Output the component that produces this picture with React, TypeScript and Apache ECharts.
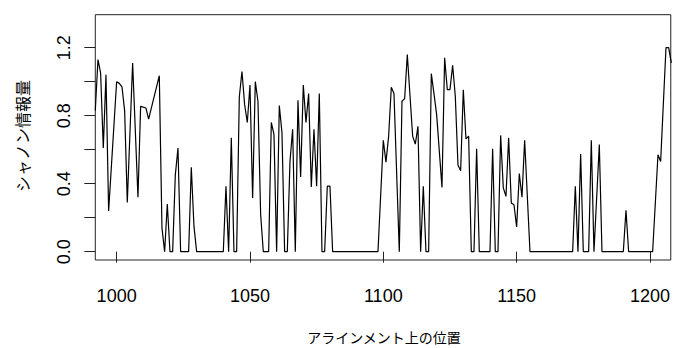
import React, { useEffect, useRef } from "react";
import * as echarts from "echarts";

const positions: number[] = [
  992, 993, 994, 995, 996, 997, 1000, 1001, 1002, 1003, 1004, 1006, 1008, 1009, 1011, 1012,
  1016, 1017, 1018, 1019, 1020, 1021, 1022, 1023, 1024, 1027, 1028, 1029, 1030, 1040,
  1041, 1042, 1043, 1044, 1045, 1046, 1047, 1048, 1049, 1050, 1051, 1052, 1053, 1054,
  1055, 1057, 1058, 1059, 1060, 1061, 1062, 1063, 1064, 1065, 1066, 1067, 1068, 1069,
  1070, 1071, 1072, 1073, 1074, 1075, 1076, 1077, 1078, 1079, 1080, 1081, 1098, 1100,
  1101, 1102, 1103, 1104, 1106, 1107, 1108, 1109, 1111, 1112, 1113, 1114, 1115, 1116,
  1117, 1118, 1119, 1120, 1122, 1123, 1124, 1125, 1126, 1127, 1128, 1129, 1130, 1131,
  1132, 1133, 1134, 1135, 1136, 1140, 1141, 1142, 1143, 1144, 1145, 1146, 1147, 1148,
  1149, 1150, 1151, 1152, 1153, 1155, 1171, 1172, 1173, 1174, 1175, 1177, 1178, 1179,
  1181, 1182, 1190, 1191, 1192, 1201, 1203, 1204, 1206, 1207, 1208,
];

const entropy: number[] = [
  0.83, 1.13, 1.05, 0.61, 1.04, 0.24, 1.0, 0.99, 0.97, 0.83, 0.29, 1.11, 0.32, 0.855, 0.845, 0.78,
  1.035, 0.14, 0, 0.28, 0, 0, 0.45, 0.61, 0, 0, 0.496, 0.15, 0, 0,
  0.385, 0, 0.67, 0, 0, 0.91, 1.06, 0.865, 0.76, 0.98, 0.316, 1.0, 0.885, 0.22,
  0, 0, 0.76, 0.69, 0, 0.86, 0.7, 0, 0, 0.53, 0.72, 0, 0.89, 0.44,
  0.98, 0.76, 0.93, 0.38, 0.72, 0.385, 0.93, 0, 0, 0.385, 0.385, 0, 0, 0.655,
  0.527, 0.68, 0.967, 0.93, 0, 0.885, 0.9, 1.16, 0.68, 0.633, 0.737, 0, 0.385, 0,
  0, 1.047, 0.93, 0.806, 0.378, 1.14, 0.953, 0.953, 1.096, 0.914, 0.51, 0.476, 0.953, 0.663,
  0.68, 0, 0, 0.606, 0, 0, 0.606, 0, 0, 0.684, 0.375, 0.325, 0.67, 0.286,
  0.276, 0.145, 0.46, 0.32, 0.655, 0, 0, 0.385, 0, 0.575, 0, 0, 0.655, 0,
  0.63, 0, 0, 0.243, 0, 0, 0.57, 0.53, 1.2, 1.2, 1.11,
];

const xTicks: number[] = [1000, 1050, 1100, 1150, 1200];
const yTicks: number[] = [0, 0.2, 0.4, 0.6, 0.8, 1.0, 1.2];
const yLabels: number[] = [0, 0.4, 0.8, 1.2];

const xTitle = "アラインメント上の位置";
const yTitle = "シャノン情報量";

const LATIN = "'Liberation Sans', Arial, sans-serif";
const CJK = "'Noto Sans CJK JP', sans-serif";

export default function App() {
  const ref = useRef<HTMLDivElement>(null);
  useEffect(() => {
    if (!ref.current) return;
    const chart = echarts.init(ref.current, undefined, { renderer: "svg" });
    const data = positions.map((p, i) => [p, entropy[i]]);
    chart.setOption({
      animation: false,
      backgroundColor: "#ffffff",
      grid: {
        left: 95.3,
        right: 0.7,
        top: 14.7,
        bottom: 88,
        show: true,
        borderColor: "#222",
        borderWidth: 1,
        backgroundColor: "transparent",
      },
      xAxis: {
        type: "value",
        min: 992,
        max: 1207.8,
        axisLine: { show: false },
        splitLine: { show: false },
        axisTick: {
          show: true,
          length: 11,
          customValues: xTicks,
          lineStyle: { color: "#222", width: 1 },
        },
        axisLabel: {
          customValues: xTicks,
          margin: 27,
          fontSize: 18,
          color: "#000",
          fontFamily: LATIN,
          formatter: (v: number) => String(v),
        },
      },
      yAxis: {
        type: "value",
        min: -0.049,
        max: 1.394,
        axisLine: { show: false },
        splitLine: { show: false },
        axisTick: {
          show: true,
          length: 11,
          customValues: yTicks,
          lineStyle: { color: "#222", width: 1 },
        },
        axisLabel: {
          customValues: yLabels,
          rotate: 90,
          margin: 22,
          fontSize: 18,
          color: "#000",
          fontFamily: LATIN,
          formatter: (v: number) => v.toFixed(1),
        },
      },
      graphic: [
        {
          type: "text",
          x: 384,
          y: 337,
          style: {
            text: xTitle,
            fontSize: 14,
            fontFamily: CJK,
            fill: "#000",
            textAlign: "center",
            textVerticalAlign: "middle",
          },
        },
        {
          type: "text",
          x: 22,
          y: 136,
          rotation: Math.PI / 2,
          style: {
            text: yTitle,
            fontSize: 16,
            fontFamily: CJK,
            fill: "#000",
            textAlign: "center",
            textVerticalAlign: "middle",
          },
        },
      ],
      series: [
        {
          type: "line",
          data,
          symbol: "none",
          lineStyle: { color: "#000", width: 1.2 },
          clip: true,
        },
      ],
    });
    return () => chart.dispose();
  }, []);
  return (
    <div
      ref={ref}
      style={{ position: "absolute", left: 0, top: 0, width: 673, height: 348 }}
    />
  );
}
